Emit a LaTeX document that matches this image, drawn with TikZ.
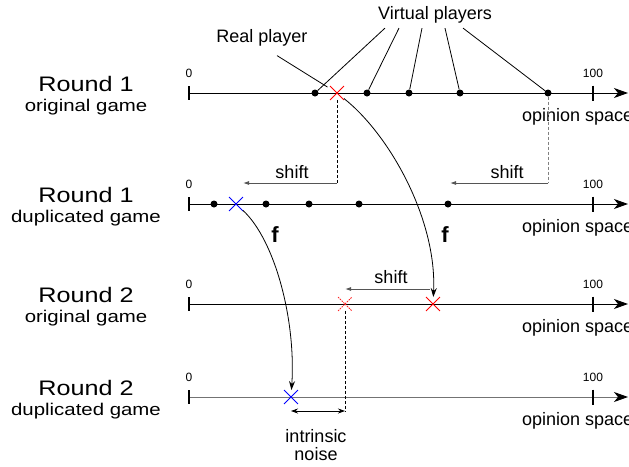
\documentclass[tikz,border=0pt]{standalone}
\usepackage{fontspec}
\setmainfont{Liberation Sans}
\newfontfamily\widefont[FakeStretch=1.2]{Liberation Sans}
\usetikzlibrary{arrows.meta,shapes.misc,calc}
\definecolor{cRed}{HTML}{FF0000}
\definecolor{cBlue}{HTML}{0000FF}
\definecolor{cShift}{HTML}{555555}

\begin{document}
\begin{tikzpicture}[x=1pt,y=-1pt,
		axis/.style={line width=1pt,-{Stealth[length=14pt,width=10pt,inset=4pt,color=black]}},
		tickline/.style={line width=1.5pt},
		lbl/.style={font=\fontsize{18}{20}\selectfont,inner sep=3pt},
		num/.style={font=\fontsize{12}{13}\selectfont},
		rnd/.style={font=\widefont\fontsize{21}{23}\selectfont},
		game/.style={font=\widefont\fontsize{17}{19}\selectfont},
		dot/.style={circle,fill,inner sep=0pt,minimum size=7pt},
		cross/.style={cross out,draw,line width=0.9pt,inner sep=0pt,minimum size=13pt},
		shiftarrow/.style={cShift,line width=0.9pt,-{Latex[length=6pt,width=4pt]}},
		curvearrow/.style={line width=0.8pt,-{Stealth[length=9pt,width=6pt,inset=3pt]}},
		dashline/.style={line width=0.8pt,dash pattern=on 3pt off 2pt}]
	\useasboundingbox (0,0) rectangle (629,466);
	% rows: axis, ticks, scale labels
	\foreach \r/\yy/\col/\tl/\gl in {1/93/black/Round 1/original game,2/204/black/Round 1/duplicated game,3/304/black/Round 2/original game,4/397/black!55/Round 2/duplicated game} {
		\coordinate (z\r) at (189,\yy);
		\coordinate (h\r) at (593,\yy);
		\coordinate (e\r) at (628,\yy);
		\draw [axis,\col] (z\r) -- (e\r);
		\draw [tickline] ([yshift=7pt]z\r) -- ([yshift=-7pt]z\r);
		\draw [tickline] ([yshift=7.5pt]h\r) -- ([yshift=-7.5pt]h\r);
		\node [num] (lz\r) at (189,\yy-20) {0};
		\node [num] (lh\r) at (593,\yy-20) {100};
		\node [lbl,anchor=west] (os\r) at (519,\yy+24) {opinion space};
		\node [rnd] (tr\r) at (86,\yy-9) {\tl};
		\node [game] (tg\r) at (86,\yy+14) {\gl};
	}
	% round 1, original game
	\foreach \n/\xx in {1/315,2/367,3/409,4/460,5/548}
		\node [dot] (v\n) at (\xx,93) {};
	\node [cross,cRed] (real) at (337,93) {};
	\node [lbl] (vp) at (435,15) {Virtual players};
	\foreach \dx/\n in {-50/1,-36/2,-13/3,10/4,28/5}
		\draw [line width=0.8pt] ([xshift=\dx pt,yshift=-1.5pt]vp.south) -- (v\n);
	\node [lbl] (rp) at (262,38) {Real player};
	\draw [line width=0.8pt,shorten >=3pt] ([xshift=15pt,yshift=-6pt]rp.south) -- (real);
	% round 1, duplicated game
	\foreach \n/\xx in {1/214,2/266,3/309,4/359,5/448}
		\node [dot] (w\n) at (\xx,204) {};
	\node [cross,cBlue] (dup) at (236,204) {};
	\coordinate (sL) at (337,183);
	\coordinate (sLe) at (243,183);
	\coordinate (sR) at (548,183);
	\coordinate (sRe) at (450,183);
	\draw [dashline] (real.south) -- (sL);
	\draw [dashline,black!50] (v5.south) -- (sR);
	\draw [shiftarrow] (sL) -- (sLe);
	\draw [shiftarrow] (sR) -- (sRe);
	\node [lbl] (shL) at (292,172) {shift};
	\node [lbl] (shR) at (507,172) {shift};
	\node [font=\bfseries\fontsize{22}{23}\selectfont] (fL) at (275,235) {f};
	\node [font=\bfseries\fontsize{22}{23}\selectfont] (fR) at (445,235) {f};
	% round 2, original game
	\node [cross,cRed] (real2) at (433,304) {};
	\node [cross,cRed!85,line width=0.8pt,dash pattern=on 1.5pt off 1pt] (ghost) at (345,304) {};
	\draw [curvearrow] (real) .. controls (390,135) and (437,220) .. (real2);
	\draw [shiftarrow] ([xshift=-3pt,yshift=15pt]real2.center) -- ([yshift=15pt]ghost.center);
	\node [lbl] (sh3) at (391,277) {shift};
	% round 2, duplicated game
	\node [cross,cBlue] (dup2) at (291,397) {};
	\draw [curvearrow] (dup) .. controls (275,240) and (296,320) .. (dup2);
	\coordinate (nz) at (345,411);
	\draw [dashline] (ghost.south) -- (nz);
	\draw [line width=0.8pt,{Stealth[length=7pt,width=5pt]}-{Stealth[length=7pt,width=5pt]}] (dup2 |- nz) -- (nz);
	\node [lbl,align=center] (noise) at (316,445) {intrinsic\\[-2pt]noise};
\end{tikzpicture}
\end{document}
